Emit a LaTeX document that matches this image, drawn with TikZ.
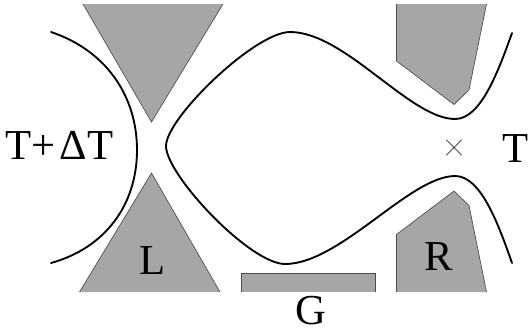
\documentclass[tikz,border=0pt]{standalone}
\usepackage{fontspec}
\setmainfont{Liberation Serif}
\usetikzlibrary{shapes.misc}
\begin{document}
\begin{tikzpicture}[x=0.75pt,y=-0.75pt]
	\tikzstyle{gate} = [fill=black!35,draw=black!70,line width=0.5pt]
	\tikzstyle{edgeline} = [line width=1.4pt,line cap=round]
	\tikzstyle{label} = [inner sep=0pt,font=\fontsize{32}{32}\selectfont]
	\useasboundingbox (0,0) rectangle (530,333);

	% gates, left open along the picture's edge
	\draw[gate] (83,4) -- (151.5,122) -- (223,4);
	\draw[gate] (79.5,292) -- (151.5,173) -- (220,292);
	\draw[gate] (241.5,292) -- (241.5,273.5) -- (375.5,273.5) -- (375.5,292);
	\draw[gate] (396.5,4) -- (396.5,61) -- (454,104.5) -- (469,90) -- (486.5,4);
	\draw[gate] (396.5,292) -- (396.5,234.5) -- (454,191) -- (469,205.5) -- (486.5,292);

	% edge channels
	\draw[edgeline] (51,32) .. controls (105,50) and (137,95) .. (137,150)
		.. controls (137,205) and (105,248) .. (51,263);
	\draw[edgeline] (512,33) .. controls (497,75) and (480,119) .. (455,119)
		.. controls (410,119) and (345,32) .. (290,32)
		.. controls (255,32) and (166,118) .. (166,146)
		.. controls (166,175) and (250,264) .. (285,264)
		.. controls (340,264) and (410,176) .. (455,176)
		.. controls (480,176) and (497,220) .. (512,263);

	\node[label] (hot) at (59.5,145.5) {T+\hspace{3pt}ΔT};
	\node[label] (cold) at (516,149) {T};
	\node[label] (lft) at (153,261) {L};
	\node[label] (rgt) at (439,256.5) {R};
	\node[label] (gt) at (310.5,310.5) {G};
	\node[cross out,draw,minimum size=11pt,inner sep=0pt,line width=0.5pt] (dot) at (454,147.5) {};
\end{tikzpicture}
\end{document}
